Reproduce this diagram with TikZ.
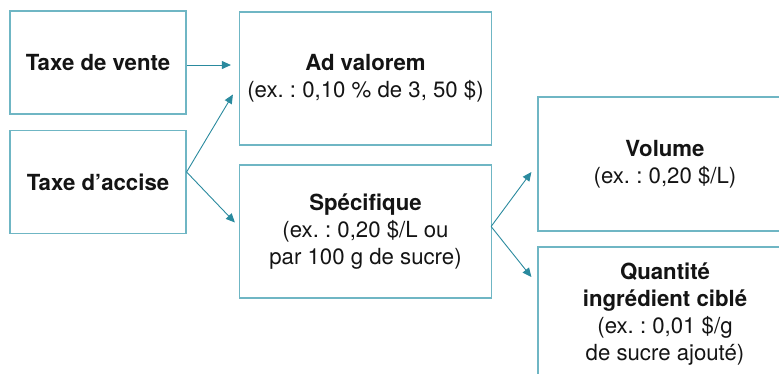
\documentclass[tikz,border=0pt]{standalone}
\usepackage{fontspec}
\setmainfont{TeX Gyre Heros}
\usetikzlibrary{arrows.meta,calc}
\definecolor{boxline}{HTML}{6FB6C4}
\definecolor{arrowline}{HTML}{2A8A9E}
\tikzset{
  taxbox/.style={draw=boxline, line width=1.2pt, align=center, inner sep=0pt,
    font=\fontsize{22.2}{26.8}\selectfont\frenchspacing, text=black!92},
  flow/.style={draw=arrowline, line width=0.9pt,
    -{Triangle[length=9pt,width=8pt]}},
}
\begin{document}
\begin{tikzpicture}[x=1pt,y=-1pt]
  \useasboundingbox (0,0) rectangle (779,373);
  % left column: kinds of tax
  \node[taxbox, minimum width=176pt, minimum height=103pt] (vente) at (98,62.5)
    {\bfseries Taxe de vente};
  \node[taxbox, minimum width=176pt, minimum height=103pt] (accise) at (98,182)
    {\bfseries Taxe d’accise};
  % middle column: how the tax is levied
  \node[taxbox, minimum width=252pt, minimum height=133pt] (adval) at (365.5,78.5)
    {{\bfseries Ad valorem}\\(ex. : 0,10 \% de 3, 50 \$)};
  \node[taxbox, minimum width=252pt, minimum height=133pt] (specif) at (365.5,231.5)
    {{\bfseries Spécifique}\\(ex. : 0,20 \$/L ou\\par 100 g de sucre)};
  % right column: bases of the specific tax
  \node[taxbox, minimum width=254pt, minimum height=134pt] (volume) at (665,164)
    {{\bfseries Volume}\\(ex. : 0,20 \$/L)};
  \node[taxbox, minimum width=254pt, minimum height=134pt] (quant) at (665,314)
    {{\bfseries Quantité}\\{\bfseries ingrédient ciblé}\\(ex. : 0,01 \$/g\\de sucre ajouté)};
  % arrow anchors
  \coordinate (venteout) at ($(vente.east)+(0,2.5)$);
  \coordinate (adin1) at ($(adval.west)+(-8,-13.5)$);
  \coordinate (accout) at ($(accise.east)+(0,-10)$);
  \coordinate (adin2) at ($(adval.west)+(-6,16)$);
  \coordinate (spin) at ($(specif.west)+(-4,-9)$);
  \coordinate (specout) at ($(specif.east)+(-1,-5)$);
  \coordinate (volin) at ($(volume.west)+(-6,8)$);
  \coordinate (quin) at ($(quant.west)+(-6,-37)$);
  % connectors
  \draw[flow] (venteout) -- (adin1);
  \draw[flow] (accout) -- (adin2);
  \draw[flow] (accout) -- (spin);
  \draw[flow] (specout) -- (volin);
  \draw[flow] (specout) -- (quin);
\end{tikzpicture}
\end{document}
